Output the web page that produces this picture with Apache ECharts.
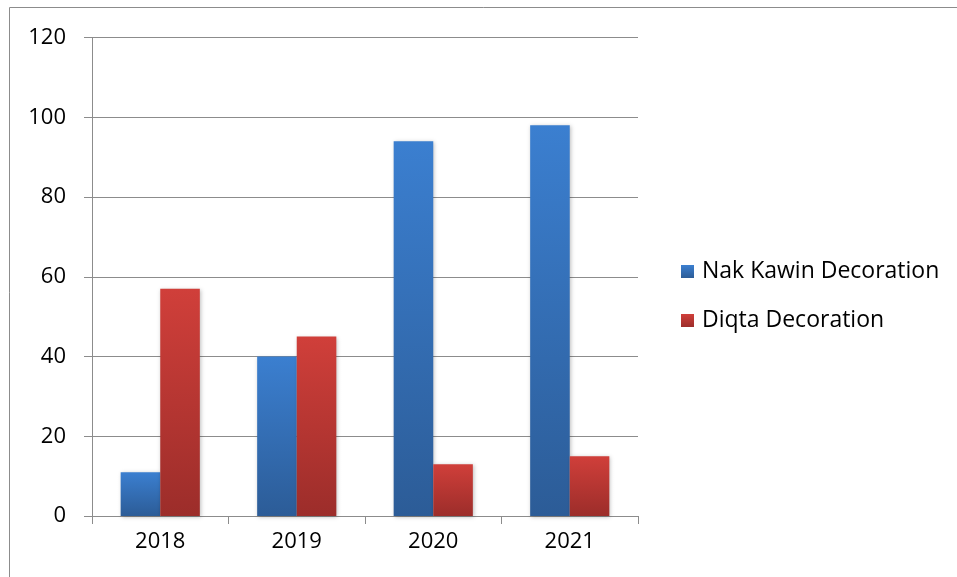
<!DOCTYPE html>
<html><head><meta charset="utf-8">
<script src="https://cdn.jsdelivr.net/npm/echarts@6/dist/echarts.min.js"></script>
<style>html,body{margin:0;padding:0;background:#fff}#c{width:957px;height:577px}</style>
</head><body><div id="c"></div>
<script>
const categories = ['2018', '2019', '2020', '2021'];
const nakKawin = [11, 40, 94, 98];
const diqta = [57, 45, 13, 15];
const yTicks = [0, 20, 40, 60, 80, 100, 120];

const chart = echarts.init(document.getElementById('c'));
function grad(top, bottom) {
  return new echarts.graphic.LinearGradient(0, 0, 0, 1, [{offset: 0, color: top}, {offset: 1, color: bottom}]);
}
const font = '"Open Sans", sans-serif';
chart.setOption({
  backgroundColor: '#fff',
  animation: false,
  graphic: [{type: 'rect', shape: {x: 9.5, y: 7.5, width: 1000, height: 1000}, style: {fill: 'none', stroke: '#8c8c8c', lineWidth: 1}, z: -1}],
  grid: {left: 92, right: 319, top: 37.5, bottom: 61},
  legend: {
    orient: 'vertical', left: 681, top: 260, padding: 0, itemGap: 26, itemWidth: 13, itemHeight: 13,
    icon: 'rect',
    textStyle: {fontFamily: font, fontSize: 23, color: '#000', padding: [0, 0, 0, 3]},
    data: ['Nak Kawin Decoration', 'Diqta Decoration']
  },
  xAxis: {
    type: 'category', data: categories,
    axisLine: {lineStyle: {color: '#8c8c8c', width: 1}},
    axisTick: {show: true, length: 8, lineStyle: {color: '#8c8c8c'}},
    axisLabel: {fontFamily: font, fontSize: 22, color: '#000', margin: 15}
  },
  yAxis: {
    type: 'value', min: yTicks[0], max: yTicks[yTicks.length - 1], interval: 20,
    axisLine: {show: true, lineStyle: {color: '#8c8c8c', width: 1}},
    axisTick: {show: true, length: 8, lineStyle: {color: '#8c8c8c'}},
    splitLine: {lineStyle: {color: '#8c8c8c', width: 1}},
    axisLabel: {fontFamily: font, fontSize: 22, color: '#000', margin: 26}
  },
  series: [
    {name: 'Nak Kawin Decoration', type: 'bar', data: nakKawin, barGap: '0%', barCategoryGap: '42%',
     itemStyle: {color: grad('#3b7fd0', '#2c5c97'), shadowColor: 'rgba(0,0,0,0.25)', shadowBlur: 4, shadowOffsetX: 1, shadowOffsetY: 1}},
    {name: 'Diqta Decoration', type: 'bar', data: diqta, barGap: '0%', barCategoryGap: '42%',
     itemStyle: {color: grad('#d03f3a', '#9c2d2a'), shadowColor: 'rgba(0,0,0,0.25)', shadowBlur: 4, shadowOffsetX: 1, shadowOffsetY: 1}}
  ]
});
</script></body></html>
